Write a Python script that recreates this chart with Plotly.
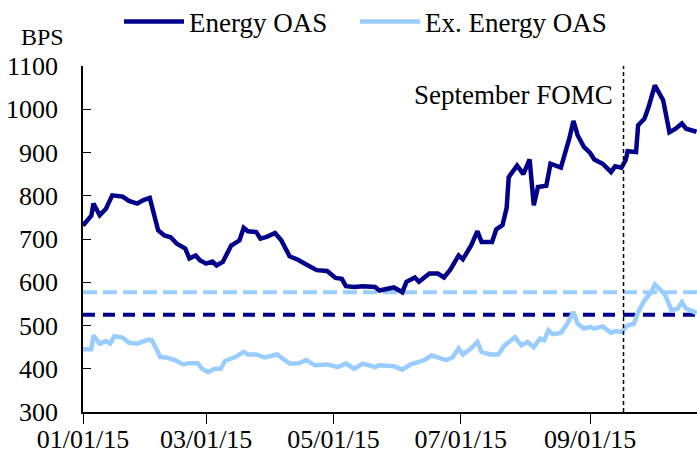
import plotly.graph_objects as go

# ---- data ----
energy_dates = ["2015-01-01","2015-01-05","2015-01-06","2015-01-09","2015-01-12","2015-01-15","2015-01-20","2015-01-23","2015-01-27","2015-01-30",
"2015-02-02","2015-02-04","2015-02-06","2015-02-09","2015-02-12","2015-02-15","2015-02-19","2015-02-21","2015-02-24","2015-02-26",
"2015-03-01","2015-03-04","2015-03-06","2015-03-09","2015-03-11","2015-03-13","2015-03-17","2015-03-19","2015-03-21","2015-03-25",
"2015-03-27","2015-03-30","2015-04-03","2015-04-06","2015-04-10","2015-04-14","2015-04-18","2015-04-23","2015-04-28","2015-05-02",
"2015-05-05","2015-05-07","2015-05-11","2015-05-15","2015-05-21","2015-05-23","2015-05-30","2015-06-03","2015-06-05","2015-06-09",
"2015-06-11","2015-06-16","2015-06-20","2015-06-23","2015-06-26","2015-06-30","2015-07-02","2015-07-06","2015-07-09","2015-07-11",
"2015-07-16","2015-07-18","2015-07-21","2015-07-23","2015-07-24","2015-07-28","2015-07-31","2015-08-03","2015-08-05","2015-08-07",
"2015-08-11","2015-08-13","2015-08-18","2015-08-20","2015-08-22","2015-08-24","2015-08-26","2015-08-29","2015-09-01","2015-09-03",
"2015-09-07","2015-09-11","2015-09-13","2015-09-16","2015-09-18","2015-09-19","2015-09-23","2015-09-24","2015-09-27","2015-09-29",
"2015-09-30","2015-10-02","2015-10-06","2015-10-09","2015-10-12","2015-10-15","2015-10-17","2015-10-21","2015-10-22"]
energy_oas = [731,754,782,755,770,801,798,788,782,790,
795,762,720,708,704,689,678,655,662,651,
643,648,639,647,667,685,697,726,718,716,
701,705,714,697,660,652,641,628,626,610,
608,591,589,591,589,581,588,577,601,611,
601,620,620,611,629,662,653,685,718,693,
693,722,732,772,843,870,850,884,778,820,
823,874,865,897,932,973,940,913,899,884,
874,855,868,865,882,903,901,963,978,1005,
1025,1055,1021,947,955,967,955,951,948]

ex_dates = ["2015-01-01","2015-01-05","2015-01-06","2015-01-09","2015-01-12","2015-01-14","2015-01-16","2015-01-20","2015-01-23","2015-01-27",
"2015-02-01","2015-02-03","2015-02-05","2015-02-07","2015-02-10","2015-02-14","2015-02-18","2015-02-21","2015-02-25","2015-02-27",
"2015-03-02","2015-03-05","2015-03-08","2015-03-10","2015-03-15","2015-03-19","2015-03-21","2015-03-25","2015-03-29","2015-04-01",
"2015-04-04","2015-04-10","2015-04-14","2015-04-18","2015-04-22","2015-04-28","2015-05-03","2015-05-07","2015-05-11","2015-05-15",
"2015-05-21","2015-05-23","2015-05-30","2015-06-03","2015-06-07","2015-06-11","2015-06-14","2015-06-17","2015-06-20","2015-06-24",
"2015-06-27","2015-06-30","2015-07-02","2015-07-06","2015-07-09","2015-07-11","2015-07-15","2015-07-19","2015-07-22","2015-07-27",
"2015-07-30","2015-08-02","2015-08-05","2015-08-08","2015-08-10","2015-08-12","2015-08-14","2015-08-18","2015-08-21","2015-08-24",
"2015-08-26","2015-08-29","2015-09-01","2015-09-03","2015-09-07","2015-09-11","2015-09-13","2015-09-16","2015-09-19","2015-09-22",
"2015-09-24","2015-09-27","2015-09-30","2015-10-02","2015-10-05","2015-10-07","2015-10-10","2015-10-13","2015-10-15","2015-10-17",
"2015-10-21","2015-10-22"]
ex_energy_oas = [445,445,477,458,464,458,475,472,460,458,
467,466,447,427,426,420,410,413,413,400,
392,400,400,418,427,439,433,433,426,429,
433,412,412,420,408,410,404,412,400,412,
404,408,406,398,410,416,421,431,426,420,
426,447,433,447,462,439,433,433,454,473,
454,462,450,470,466,489,480,483,504,531,
504,493,497,493,498,483,487,485,500,504,
531,558,575,595,581,570,535,539,554,539,
531,528]

avg_dates = ["2015-01-01", "2015-10-22 05:00"]
energy_avg = 525
ex_energy_avg = 577
fomc_date = "2015-09-17"

y_ticks = [300, 400, 500, 600, 700, 800, 900, 1000, 1100]
x_ticks = ["2015-01-01", "2015-03-01", "2015-05-01", "2015-07-01", "2015-09-01"]
x_tick_labels = ["01/01/15", "03/01/15", "05/01/15", "07/01/15", "09/01/15"]

NAVY = "#00008B"
LIGHT = "#99CCFF"
FONT = "Liberation Serif"

fig = go.Figure()
fig.add_trace(go.Scatter(x=avg_dates, y=[ex_energy_avg] * 2, mode="lines",
                         line=dict(color=LIGHT, width=4, dash="14px,6px"), showlegend=False))
fig.add_trace(go.Scatter(x=avg_dates, y=[energy_avg] * 2, mode="lines",
                         line=dict(color=NAVY, width=4, dash="12px,8px"), showlegend=False))
fig.add_trace(go.Scatter(x=energy_dates, y=energy_oas, mode="lines", name="Energy OAS",
                         line=dict(color=NAVY, width=4.5), legend="legend"))
fig.add_trace(go.Scatter(x=ex_dates, y=ex_energy_oas, mode="lines", name="Ex. Energy OAS",
                         line=dict(color=LIGHT, width=4.5), legend="legend2"))

fig.add_shape(type="line", xref="x", yref="paper", x0=fomc_date, x1=fomc_date, y0=0, y1=1,
              line=dict(color="black", width=1.5, dash="4px,3px"))

fig.add_annotation(x="2015-09-13", y=1032, xref="x", yref="y", text="September FOMC",
                   showarrow=False, xanchor="right", yanchor="middle",
                   font=dict(family=FONT, size=27, color="black"))
fig.add_annotation(x=(42 - 83) / 614, y=(412 - 37) / 346, xref="paper", yref="paper", text="BPS",
                   showarrow=False, xanchor="center", yanchor="middle",
                   font=dict(family=FONT, size=24, color="black"))

legend_common = dict(orientation="h", xref="container", yref="container",
                     xanchor="left", yanchor="middle", font=dict(family=FONT, size=27),
                     itemwidth=60, bgcolor="rgba(0,0,0,0)")

fig.update_layout(
    width=697, height=453,
    margin=dict(l=83, r=0, t=66, b=41, autoexpand=False),
    paper_bgcolor="white", plot_bgcolor="white",
    font=dict(family=FONT, size=26, color="black"),
    legend=dict(x=119 / 697, y=1 - 22 / 453, **legend_common),
    legend2=dict(x=355 / 697, y=1 - 22 / 453, **legend_common),
    xaxis=dict(type="date", range=["2015-01-01", "2015-10-22 05:00"], tickvals=x_ticks,
               ticktext=x_tick_labels, ticks="outside", ticklen=10, tickcolor="black",
               showline=True, linecolor="black", linewidth=1.5, showgrid=False, zeroline=False,
               tickfont=dict(family=FONT, size=26), ticklabelstandoff=-7, automargin=False),
    yaxis=dict(range=[300, 1100], tickvals=y_ticks, ticks="inside", ticklen=8, tickcolor="black",
               showline=True, linecolor="black", linewidth=1.5, showgrid=False, zeroline=False,
               tickfont=dict(family=FONT, size=26), ticklabelstandoff=18, automargin=False),
)

fig.write_html("out.html", config={"displayModeBar": False},
               post_script="document.body.style.margin='0';")
